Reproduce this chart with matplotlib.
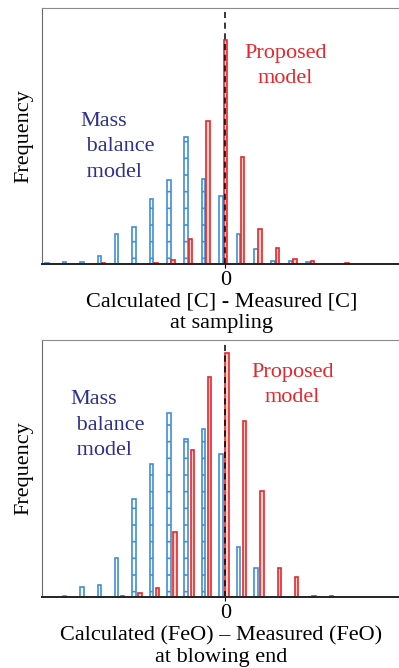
import matplotlib
matplotlib.use('Agg')
import matplotlib.pyplot as plt
import numpy as np

plt.rcParams['font.family'] = ['Liberation Serif', 'DejaVu Serif']
plt.rcParams['hatch.linewidth'] = 1.2

# top panel: carbon at sampling
c_blue_bins = [-10, -9, -8, -7, -6, -5, -4, -3, -2, -1, 0, 1, 2, 3, 4, 5]
c_blue_freq = [2, 5, 5, 23, 89, 112, 195, 251, 380, 255, 204, 89, 44, 8, 8, 5]
c_red_bins = [-7, -4, -3, -2, -1, 0, 1, 2, 3, 4, 5, 7]
c_red_freq = [2, 2, 11, 75, 427, 672, 320, 104, 49, 15, 8, 2]

# bottom panel: FeO at blowing end
f_blue_bins = [-9, -8, -7, -6, -5, -4, -3, -2, -1, 0, 1, 2]
f_blue_freq = [4, 31, 37, 118, 295, 397, 551, 472, 504, 427, 150, 88]
f_red_bins = [-6, -5, -4, -3, -2, -1, 0, 1, 2, 3, 4, 5, 6]
f_red_freq = [4, 13, 26, 195, 439, 658, 730, 528, 319, 88, 61, 4, 4]

hatched_bins = [-5, -4, -3, -2, -1]

blue_edge = '#3f8fd6'
red_edge = '#e8262c'
red_fill = '#f9d2c9'
navy = '#2e318c'
font_size = 16


def draw_panel(ax, blue_bins, blue_freq, red_bins, red_freq, red_shift, ymax,
               xlabel, mass_pos, prop_pos):
    blue_bins = np.array(blue_bins)
    red_bins = np.array(red_bins)
    for b, f in zip(blue_bins, blue_freq):
        ax.bar(b - 0.25, f, width=0.2, facecolor='white', edgecolor=blue_edge,
               linewidth=1.2, hatch='-' if b in hatched_bins else None)
    ax.bar(red_bins + red_shift, red_freq, width=0.2, facecolor=red_fill,
           edgecolor=red_edge, linewidth=1.2)
    ax.axvline(0, color='black', linestyle=(0, (4, 3)), linewidth=1.1)

    ax.set_xlim(-10.55, 10.1)
    ax.set_ylim(0, ymax)
    ax.set_xticks([0])
    ax.set_xticklabels(['0'], fontsize=font_size)
    ax.tick_params(axis='x', length=3, pad=2)
    ax.set_yticks([])
    ax.set_ylabel('Frequency', fontsize=font_size, labelpad=6)
    ax.set_xlabel(xlabel, fontsize=font_size, linespacing=1.2, labelpad=2)

    ax.spines['right'].set_visible(False)
    ax.spines['top'].set_color('#8a8a8a')
    ax.spines['left'].set_color('#6a6a6a')
    ax.spines['bottom'].set_color('#222222')
    ax.spines['bottom'].set_linewidth(1.4)

    ax.text(mass_pos[0], mass_pos[1], 'Mass\n balance\n model', transform=ax.transAxes,
            color=navy, fontsize=font_size, ha='left', va='center', linespacing=1.45)
    ax.text(prop_pos[0], prop_pos[1], 'Proposed\nmodel', transform=ax.transAxes,
            color=red_edge, fontsize=font_size, ha='center', va='center', linespacing=1.45)


fig = plt.figure(figsize=(3.99, 6.68), dpi=100)
ax1 = fig.add_axes([0.105, 0.605, 0.9, 0.383])
ax2 = fig.add_axes([0.105, 0.106, 0.9, 0.385])

draw_panel(ax1, c_blue_bins, c_blue_freq, c_red_bins, c_red_freq, 0.0, 767,
           'Calculated [C] - Measured [C]\nat sampling', (0.108, 0.457), (0.678, 0.773))
draw_panel(ax2, f_blue_bins, f_blue_freq, f_red_bins, f_red_freq, 0.1, 769,
           'Calculated (FeO) \u2013 Measured (FeO)\nat blowing end', (0.08, 0.669), (0.698, 0.825))

fig.savefig('out.png', dpi=100)
